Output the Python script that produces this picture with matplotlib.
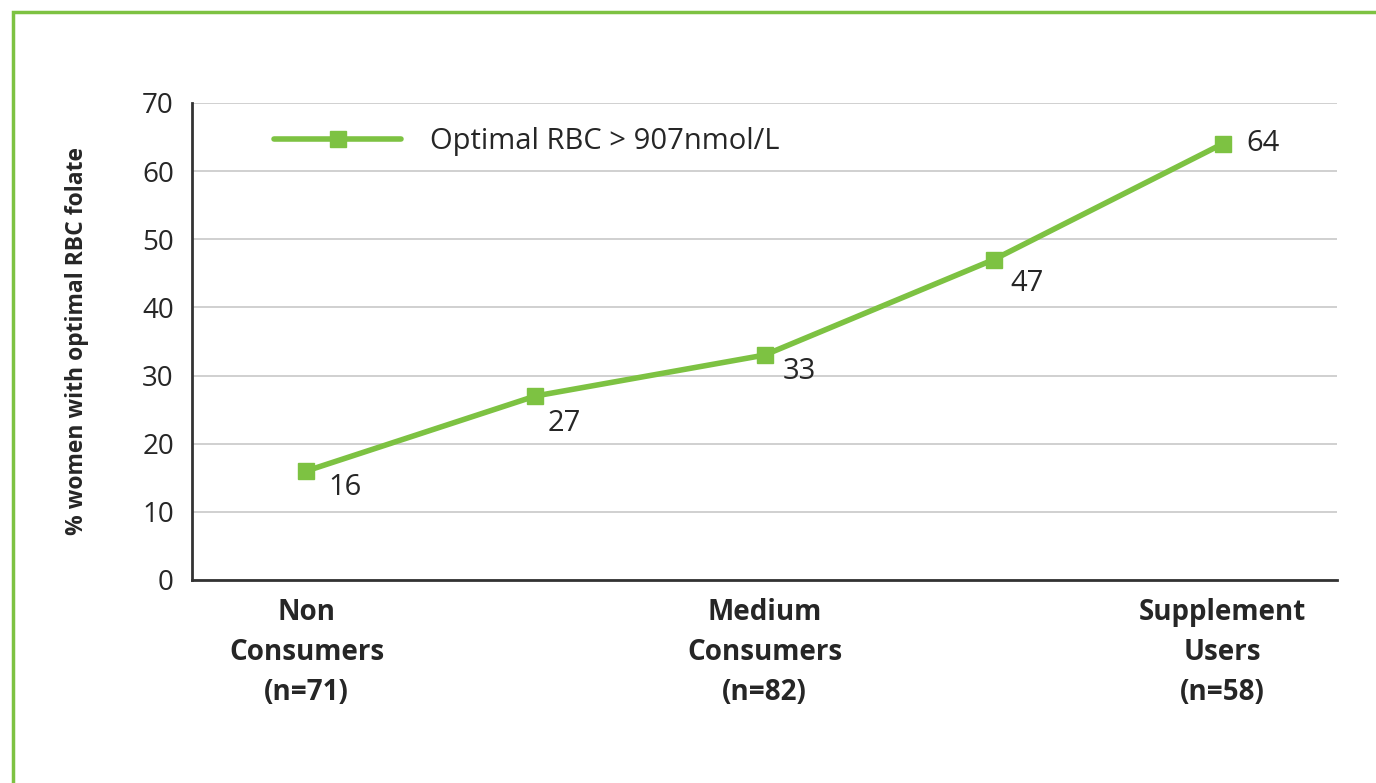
import matplotlib
matplotlib.use('Agg')
import matplotlib.pyplot as plt
import matplotlib.patches as patches

plt.rcParams['font.family'] = ['Open Sans', 'DejaVu Sans']

# Data
groups = ['Non\nConsumers\n(n=71)', '', 'Medium\nConsumers\n(n=82)', '', 'Supplement\nUsers\n(n=58)']
pct_optimal = [16, 27, 33, 47, 64]
series_name = 'Optimal RBC > 907nmol/L'
yticks = [0, 10, 20, 30, 40, 50, 60, 70]

# where each value label sits relative to its point (points)
label_offsets = [(16, -12), (9, -20), (13, -12), (12, -17), (17, 0)]

green = '#7DC242'
dark = '#262626'

fig = plt.figure(figsize=(13.76, 7.83), dpi=100)
ax = fig.add_axes([0.1395, 0.2593, 0.8322, 0.6092])

x = list(range(len(pct_optimal)))
ax.plot(x, pct_optimal, color=green, lw=4, marker='s', markersize=12,
        solid_capstyle='round', label=series_name, zorder=3)

for i, v in enumerate(pct_optimal):
    ax.annotate(str(v), (i, v), xytext=label_offsets[i], textcoords='offset points',
                ha='left', va='center', fontsize=21, color=dark)

ax.set_xlim(-0.5, len(pct_optimal) - 0.5)
ax.set_ylim(0, 70)
ax.set_yticks(yticks)
ax.set_xticks(x)
ax.set_xticklabels(groups, fontsize=20, fontweight='bold', color=dark, linespacing=1.5)
ax.tick_params(axis='y', length=0, pad=13, labelsize=20, labelcolor=dark)
ax.tick_params(axis='x', length=0, pad=13)

ax.grid(axis='y', color='#C8C8C8', lw=1.2)
ax.set_axisbelow(True)
for s in ['top', 'right']:
    ax.spines[s].set_visible(False)
for s in ['left', 'bottom']:
    ax.spines[s].set_color('#333333')
    ax.spines[s].set_linewidth(2)

ax.set_ylabel('% women with optimal RBC folate', fontsize=16.5, fontweight='bold',
              color=dark, labelpad=38)

leg = ax.legend(loc='upper left', bbox_to_anchor=(0.049, 1.004), frameon=False,
                fontsize=21, handlelength=4.35, handletextpad=1.0)
for t in leg.get_texts():
    t.set_color(dark)

# green frame around the figure
frame = patches.Rectangle((13 / 1376, -0.2), 1.2, 1.2 - 12 / 783, transform=fig.transFigure,
                          fill=False, edgecolor=green, lw=2.5, clip_on=False)
fig.patches.append(frame)

plt.savefig('out.png', dpi=100, facecolor='white')
plt.close()
